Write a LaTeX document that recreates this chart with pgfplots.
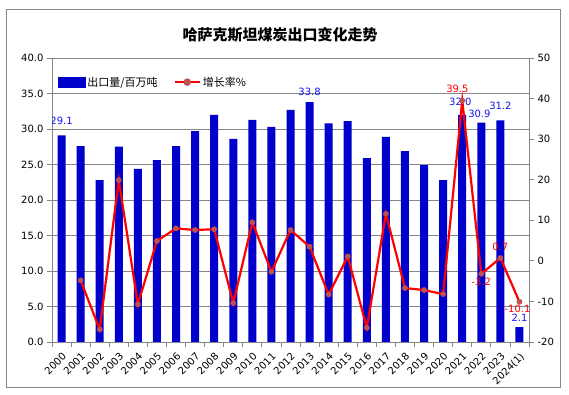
\documentclass[border=0pt]{standalone}
\usepackage{pgfplots}
\pgfplotsset{compat=1.18}
\usepackage{fontspec}
\setmainfont{DejaVu Sans}
\newfontfamily\cjk{Noto Sans CJK SC}
\definecolor{barblue}{RGB}{0,0,204}
\definecolor{lblblue}{RGB}{20,20,235}
\definecolor{mk}{RGB}{192,80,77}
\definecolor{gridgray}{RGB}{134,134,134}

\begin{document}
\begin{tikzpicture}
\useasboundingbox (-52pt,-53pt) rectangle (517pt,342pt);
\draw[gridgray, line width=1pt] (-45pt,-46pt) rectangle (508pt,332pt);
\node[font=\cjk\bfseries\fontsize{15}{18}\selectfont] at (228pt,307pt) {哈萨克斯坦煤炭出口变化走势};
\pgfplotsset{
  common/.style={
    at={(0pt,0pt)}, anchor=south west,
    scale only axis, width=477pt, height=284pt,
    xmin=-0.5, xmax=24.5,
    /pgf/number format/assume math mode=true,
    tick label style={font=\fontsize{10}{12}\selectfont},
    axis line style={gridgray, line width=0.9pt},
    tick style={gridgray, line width=0.8pt},
    tick align=outside, major tick length=5pt, minor tick length=5pt,
  }
}
\begin{axis}[common,
  ymin=0, ymax=40, ytick={0,5,...,40},
  yticklabel style={/pgf/number format/.cd, fixed, fixed zerofill, precision=1},
  ymajorgrids, grid style={gridgray, line width=0.9pt},
  ytick pos=left, xtick pos=lower,
  xtick={0,...,24},
  xticklabels={2000,2001,2002,2003,2004,2005,2006,2007,2008,2009,2010,2011,2012,2013,2014,2015,2016,2017,2018,2019,2020,2021,2022,2023,2024(1)},
  major x tick style={draw=none},
  minor xtick={-0.5,0.5,...,24.5},
  x tick label style={rotate=45, anchor=north east, font=\fontsize{10}{12}\selectfont},
]
\addplot[ybar, bar width=8pt, fill=barblue, draw=none] coordinates {
(0,29.1)(1,27.6)(2,22.8)(3,27.5)(4,24.4)(5,25.6)(6,27.6)(7,29.7)(8,32.0)(9,28.6)
(10,31.3)(11,30.3)(12,32.7)(13,33.8)(14,30.8)(15,31.1)(16,25.9)(17,28.9)(18,26.9)(19,24.9)
(20,22.8)(21,32.0)(22,30.9)(23,31.2)(24,2.1)};
\begin{scope}[every node/.style={text=lblblue, font=\fontsize{10}{12}\selectfont}]
\node at (axis cs:0,31.1) {29.1};
\node at (axis cs:13,35.2) {33.8};
\node at (axis cs:20.9,33.85) {32.0};
\node at (axis cs:21.9,32.1) {30.9};
\node at (axis cs:23,33.2) {31.2};
\node at (axis cs:24,3.4) {2.1};
\end{scope}
\end{axis}
\begin{axis}[common,
  ymin=-20, ymax=50, ytick={-20,-10,...,50},
  axis y line*=right, axis x line=none,
  legend style={at={(0.012,0.915)}, anchor=west, draw=none, fill=none,
    legend columns=2, font=\cjk\fontsize{11}{13}\selectfont,
    /tikz/every even column/.append style={column sep=14pt},
    inner sep=0pt},
]
\addlegendimage{legend image code/.code={\fill[barblue] (0pt,-5pt) rectangle (27pt,5pt);}}
\addlegendentry{出口量/百万吨}
\addplot[red, line width=2.2pt, mark=*, mark size=2.6pt, mark options={fill=mk, draw=mk, line width=0.5pt},
  legend image code/.code={\draw[red,line width=2.2pt] (0pt,0pt)--(25pt,0pt); \fill[mk] (12.5pt,0pt) circle (2.6pt);}]
 coordinates {
(1,-4.8)(2,-16.9)(3,19.9)(4,-10.7)(5,4.9)(6,8.0)(7,7.6)(8,7.8)(9,-10.4)
(10,9.5)(11,-2.7)(12,7.6)(13,3.5)(14,-8.3)(15,1.1)(16,-16.5)(17,11.6)(18,-6.7)(19,-7.2)
(20,-8.2)(21,39.5)(22,-3.2)(23,0.7)(24,-10.1)};
\addlegendentry{增长率\%}
\begin{scope}[every node/.style={text=red, font=\fontsize{10}{12}\selectfont}]
\node at (axis cs:20.75,42.4) {39.5};
\node at (axis cs:22,-5.1) {-3.2};
\node at (axis cs:23,3.5) {0.7};
\node at (axis cs:23.9,-11.9) {-10.1};
\end{scope}
\end{axis}
\end{tikzpicture}
\end{document}
